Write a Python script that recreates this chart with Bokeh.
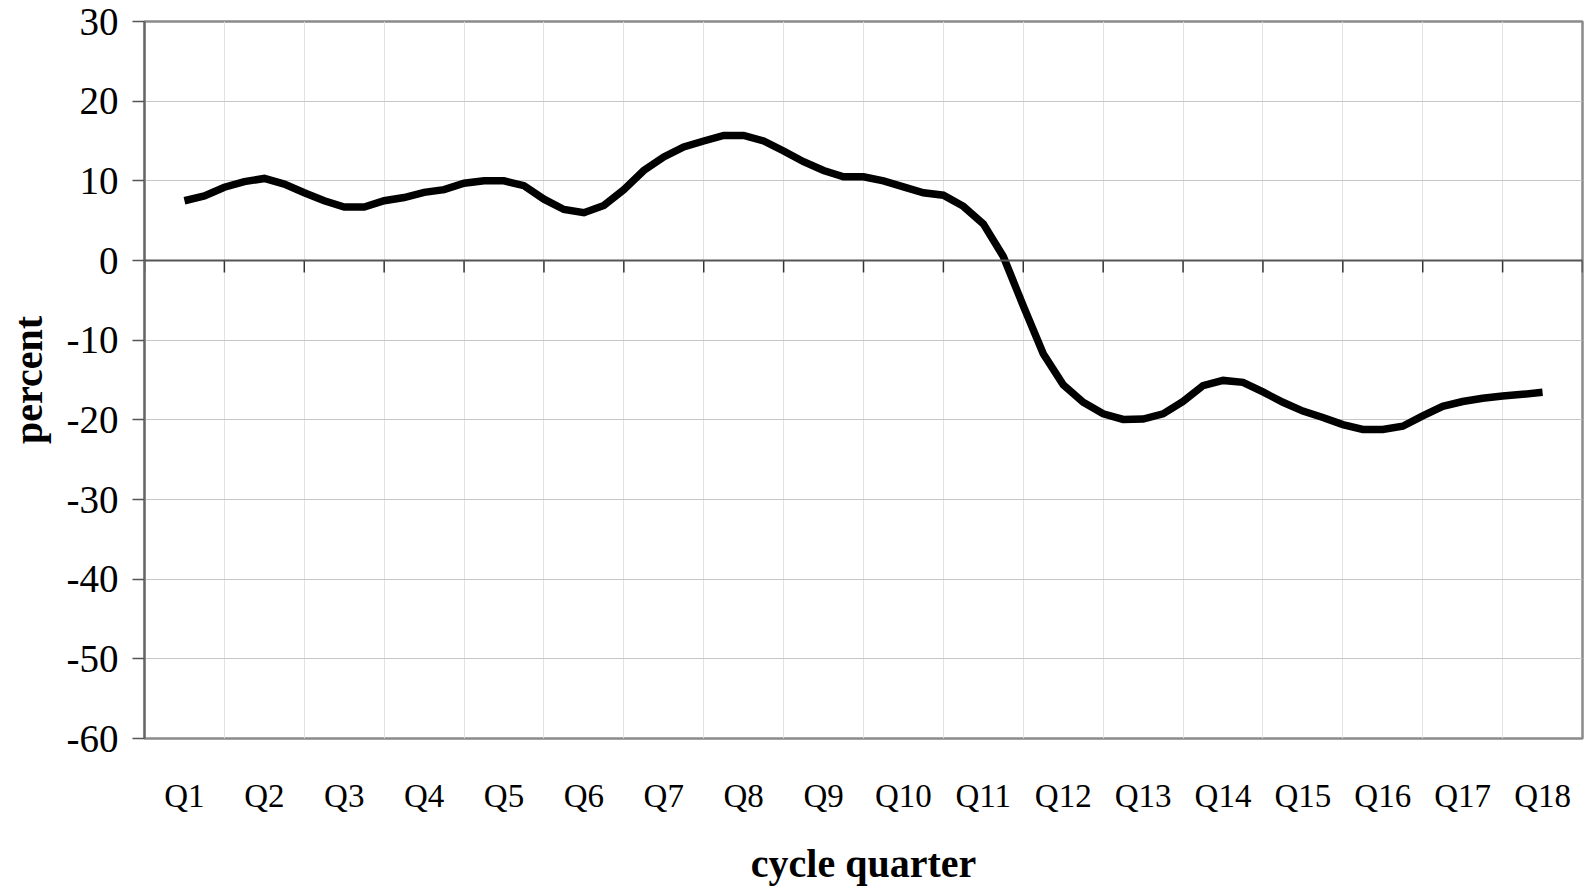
from bokeh.plotting import figure
from bokeh.models import Range1d, FixedTicker, Span
from bokeh.embed import file_html
from bokeh.resources import INLINE

quarters = ["Q%d" % i for i in range(1, 19)]
y_ticks = [-60, -50, -40, -30, -20, -10, 0, 10, 20, 30]
values = [
    7.5, 8.1, 9.2, 9.9, 10.3, 9.6, 8.5, 7.5, 6.7, 6.7,
    7.5, 7.9, 8.55, 8.9, 9.7, 10.0, 10.0, 9.4, 7.7, 6.4,
    6.0, 6.9, 8.9, 11.3, 13.0, 14.25, 15.0, 15.7, 15.7, 15.0,
    13.75, 12.4, 11.3, 10.5, 10.5, 10.0, 9.25, 8.5, 8.2, 6.8,
    4.6, 0.5, -5.7, -11.7, -15.6, -17.8, -19.25, -19.95, -19.9, -19.25,
    -17.7, -15.7, -15.05, -15.3, -16.5, -17.8, -18.9, -19.7, -20.6, -21.2,
    -21.2, -20.8, -19.5, -18.3, -17.7, -17.3, -17.0, -16.8, -16.55,
]
points_per_quarter = 4

n = len(quarters)
xs = [0.5 + i / points_per_quarter for i in range(len(values))]

FONT = "Liberation Serif"

p = figure(width=1588, height=888, output_backend="svg", toolbar_location=None,
           x_range=Range1d(0, n), y_range=Range1d(y_ticks[0], y_ticks[-1]),
           min_border_left=144, min_border_right=6, min_border_top=21, min_border_bottom=149)
p.background_fill_color = "white"
p.border_fill_color = "white"
p.outline_line_color = "#8a8a8a"
p.outline_line_width = 2.5

# grids
p.xgrid.ticker = FixedTicker(ticks=list(range(n + 1)))
p.xgrid.grid_line_color = "#e2e2e2"
p.xgrid.grid_line_width = 1
p.ygrid.ticker = FixedTicker(ticks=y_ticks)
p.ygrid.grid_line_color = "#c6c6c6"
p.ygrid.grid_line_width = 1

# y axis
yax = p.yaxis[0]
yax.ticker = FixedTicker(ticks=y_ticks)
yax.major_label_overrides = {t: str(t) for t in y_ticks}
yax.axis_line_color = "#666666"
yax.axis_line_width = 2
yax.major_tick_line_color = "#555555"
yax.major_tick_line_width = 1.5
yax.major_tick_out = 12
yax.major_tick_in = 0
yax.minor_tick_line_color = None
yax.major_label_text_font = FONT
yax.major_label_text_font_size = "39px"
yax.major_label_text_color = "black"
yax.major_label_standoff = 14
yax.axis_label = "percent"
yax.axis_label_text_font = FONT
yax.axis_label_text_font_size = "40px"
yax.axis_label_text_font_style = "bold"
yax.axis_label_text_color = "black"
yax.axis_label_standoff = 13

# x axis (labels only, centered in each quarter)
xax = p.xaxis[0]
centers = [i + 0.5 for i in range(n)]
xax.ticker = FixedTicker(ticks=centers)
xax.major_label_overrides = {c: q for c, q in zip(centers, quarters)}
xax.axis_line_color = None
xax.major_tick_line_color = None
xax.minor_tick_line_color = None
xax.major_tick_out = 0
xax.major_tick_in = 0
xax.major_label_text_font = FONT
xax.major_label_text_font_size = "33px"
xax.major_label_text_color = "black"
xax.major_label_standoff = 39
xax.axis_label = "cycle quarter"
xax.axis_label_text_font = FONT
xax.axis_label_text_font_size = "40px"
xax.axis_label_text_font_style = "bold"
xax.axis_label_text_color = "black"
xax.axis_label_standoff = 24

# zero axis line with tick marks at quarter boundaries
p.add_layout(Span(location=0, dimension="width", line_color="#555555", line_width=2))
bounds = list(range(n + 1))
tick_len = 1.5
p.segment(x0=bounds, y0=[0] * len(bounds), x1=bounds, y1=[-tick_len] * len(bounds),
          line_color="#333333", line_width=1.5)

# data line
p.line(xs, values, line_color="black", line_width=7.5, line_join="miter")

open("out.html", "w").write(file_html(p, INLINE))
